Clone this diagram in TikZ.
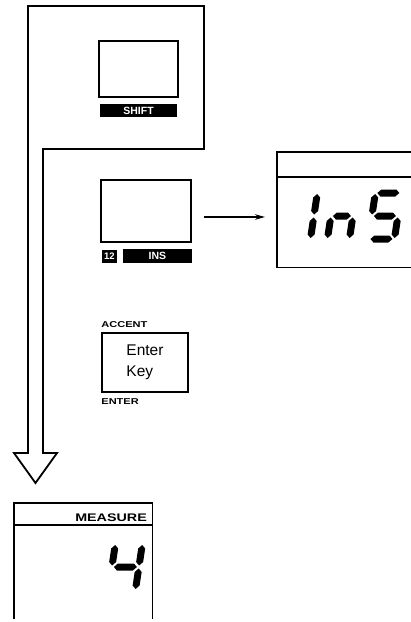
\documentclass[tikz,border=0pt]{standalone}
\usepackage{fontspec}
\setmainfont{Liberation Sans}
\usetikzlibrary{arrows.meta,positioning}

% one segment of a seven-segment digit: horizontal and vertical
\newcommand{\hseg}[3]{\fill (#1,#3) -- ({#1+3.5},{#3-3.5}) -- ({#2-3.5},{#3-3.5}) -- (#2,#3)
    -- ({#2-3.5},{#3+3.5}) -- ({#1+3.5},{#3+3.5}) -- cycle;}
\newcommand{\vseg}[3]{\fill (#1,#2) -- ({#1+3.5},{#2+3.5}) -- ({#1+3.5},{#3-3.5}) -- (#1,#3)
    -- ({#1-3.5},{#3-3.5}) -- ({#1-3.5},{#2+3.5}) -- cycle;}
\newcommand{\sega}{\hseg{2}{\dw-2}{-49}}
\newcommand{\segb}{\vseg{\dw}{-48}{-27.5}}
\newcommand{\segc}{\vseg{\dw}{-24.5}{-4}}
\newcommand{\segd}{\hseg{2}{\dw-2}{-3}}
\newcommand{\sege}{\vseg{0}{-24.5}{-4}}
\newcommand{\segf}{\vseg{0}{-48}{-27.5}}
\newcommand{\segg}{\hseg{2}{\dw-2}{-26}}
\newcommand{\widelabel}[1]{\scalebox{1.3}[1]{#1}}

\begin{document}
\begin{tikzpicture}[x=1pt,y=-1pt,
    frame/.style={line width=1.8pt,line join=miter},
    keybox/.style={draw,line width=1.6pt,rectangle,inner sep=0pt},
    labelbar/.style={fill=black,text=white,rectangle,inner sep=0pt,
        font=\bfseries\fontsize{10.5}{10.5}\selectfont},
    small caption/.style={inner sep=0pt,font=\bfseries\fontsize{8.5}{9}\selectfont},
    display window/.style={rectangle,inner sep=0pt,anchor=north west},
    digit at/.style={shift={#1},xslant=0.15}
]
    \useasboundingbox (0,0) rectangle (411,622);

    \draw[frame] (28,6) -- (204,6) -- (204,149) -- (43,149) -- (43,453)
        -- (57,453) -- (35.5,483) -- (14,453) -- (28,453) -- cycle;

    \node[keybox,minimum width=79,minimum height=56] (shiftkey) at (138.5,69) {};
    \node[labelbar,minimum width=77,minimum height=13,below=6pt of shiftkey]
        (shiftbar) {SHIFT};

    \node[keybox,minimum width=90,minimum height=62] (inskey) at (146,211) {};
    \node[labelbar,minimum width=15,minimum height=13,font=\bfseries\fontsize{9.5}{9.5}\selectfont]
        (numbox) at (109.5,256.5) {12};
    \node[labelbar,minimum width=69,minimum height=14] (insbar) at (157.5,256) {INS};

    \node[keybox,minimum width=86,minimum height=59,align=left,
        font=\fontsize{15.5}{21}\selectfont] (enterkey) at (145,362.5) {Enter\\Key};
    \node[small caption,above=4.5pt of enterkey.north west,anchor=south west]
        (accentlabel) {\widelabel{ACCENT}};
    \node[small caption,below=6pt of enterkey.south west,anchor=north west]
        (enterlabel) {\widelabel{ENTER}};

    \node[display window,minimum width=134,minimum height=115] (insdisp) at (277,152) {};
    \draw[frame] (insdisp.north east) -- (insdisp.north west)
        -- (insdisp.south west) -- (insdisp.south east);
    \draw[frame] ([yshift=-25pt]insdisp.north west) -- ([yshift=-25pt]insdisp.north east);
    \draw[line width=1.4pt,-{Stealth[length=10pt,width=5.5pt]},shorten <=12pt,shorten >=12pt]
        ([yshift=-6pt]inskey.east) -- ([yshift=-6pt]inskey.east -| insdisp.west);

    \begin{scope}[digit at={(310,242)}]
        \def\dw{22}
        \segf \sege
    \end{scope}
    \begin{scope}[digit at={(327,242)}]
        \def\dw{22}
        \sege \segg \segc
    \end{scope}
    \begin{scope}[digit at={(368,242)}]
        \def\dw{26}
        \sega \segf \segg \segc \segd
    \end{scope}

    \node[display window,minimum width=138,minimum height=116] (measuredisp) at (14,503) {};
    \draw[frame] (measuredisp.south west) -- (measuredisp.north west)
        -- (measuredisp.north east) -- (measuredisp.south east);
    \draw[frame] ([yshift=-22pt]measuredisp.north west)
        -- ([yshift=-22pt]measuredisp.north east);
    \node[inner sep=0pt,anchor=east,font=\bfseries\fontsize{11}{11}\selectfont]
        (measurelabel) at (147,518) {\widelabel{MEASURE}};

    \begin{scope}[digit at={(108,593)}]
        \def\dw{27}
        \segf \segg \segb \segc
    \end{scope}

\end{tikzpicture}
\end{document}
